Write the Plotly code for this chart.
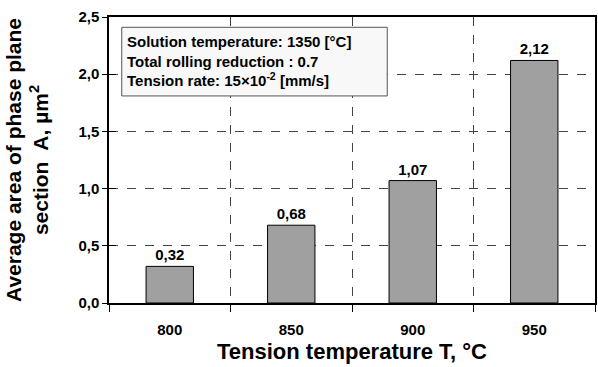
import plotly.graph_objects as go

categories = ["800", "850", "900", "950"]
values = [0.32, 0.68, 1.07, 2.12]
labels = ["0,32", "0,68", "1,07", "2,12"]
y_ticks = [0.0, 0.5, 1.0, 1.5, 2.0, 2.5]

xpos = list(range(len(categories)))
font = "Liberation Sans, Arial, sans-serif"

fig = go.Figure()
fig.add_trace(go.Bar(
    x=xpos, y=values, width=0.39,
    marker=dict(color="#a0a0a0", line=dict(color="#000000", width=1)),
    text=labels, textposition="outside", cliponaxis=False,
    textfont=dict(family=font, size=15, color="#000000", weight="bold"),
))
# invisible helper trace so the inner tick axis is drawn
fig.add_trace(go.Scatter(x=[xpos[0]], y=[values[0]], yaxis="y2", mode="markers",
                         marker=dict(opacity=0), hoverinfo="skip"))

fig.update_layout(
    width=598, height=367,
    margin=dict(l=109, r=1, t=17, b=64),
    paper_bgcolor="white", plot_bgcolor="white",
    separators=",.",
    showlegend=False,
    font=dict(family=font, color="#000000"),
    xaxis=dict(
        range=[-0.5, 3.5],
        tickvals=xpos, ticktext=categories,
        ticks="", showgrid=False,
        tickfont=dict(family=font, size=15, weight="bold"),
        ticklabelstandoff=12,
        showline=True, linecolor="#000000", linewidth=1.5, mirror=True,
        minor=dict(tickvals=[-0.5, 0.5, 1.5, 2.5, 3.5], ticks="outside", ticklen=7,
                   tickcolor="#000000", showgrid=True, gridcolor="#444444",
                   griddash="dash", gridwidth=1),
        title=dict(text="Tension temperature T, °C",
                   font=dict(family=font, size=22, weight="bold"), standoff=7),
        zeroline=False,
    ),
    yaxis=dict(
        range=[0, 2.5],
        tickvals=y_ticks, tickformat=".1f",
        ticks="outside", ticklen=5, tickcolor="#000000",
        tickfont=dict(family=font, size=15, weight="bold"),
        showgrid=True, gridcolor="#444444", griddash="dash", gridwidth=1,
        showline=True, linecolor="#000000", linewidth=1.5, mirror=True,
        zeroline=False,
        title=dict(text="Average area of phase plane<br>section  A, µm<sup>2</sup>",
                   font=dict(family=font, size=21, weight="bold"), standoff=24),
    ),
    yaxis2=dict(
        overlaying="y", range=[0, 2.5], side="left",
        tickvals=y_ticks, ticks="inside", ticklen=7, tickcolor="#000000",
        showticklabels=False, showgrid=False, zeroline=False, showline=False,
    ),
    shapes=[dict(
        type="rect", xref="x", yref="y",
        x0=-0.395, x1=1.79, y0=1.81, y1=2.41,
        fillcolor="#f8f8f8", line=dict(color="#555555", width=1), layer="above",
    )],
    annotations=[dict(
        xref="paper", yref="paper", x=0.032, y=0.952, xanchor="left", yanchor="top",
        text=("Solution temperature: 1350 [°C]<br>Total rolling reduction : 0.7<br>"
              "Tension rate: 15×10<sup>-2</sup> [mm/s]"),
        align="left", showarrow=False,
        font=dict(family=font, size=15, color="#000000", weight="bold"),
    )],
)

fig.write_html("out.html")
